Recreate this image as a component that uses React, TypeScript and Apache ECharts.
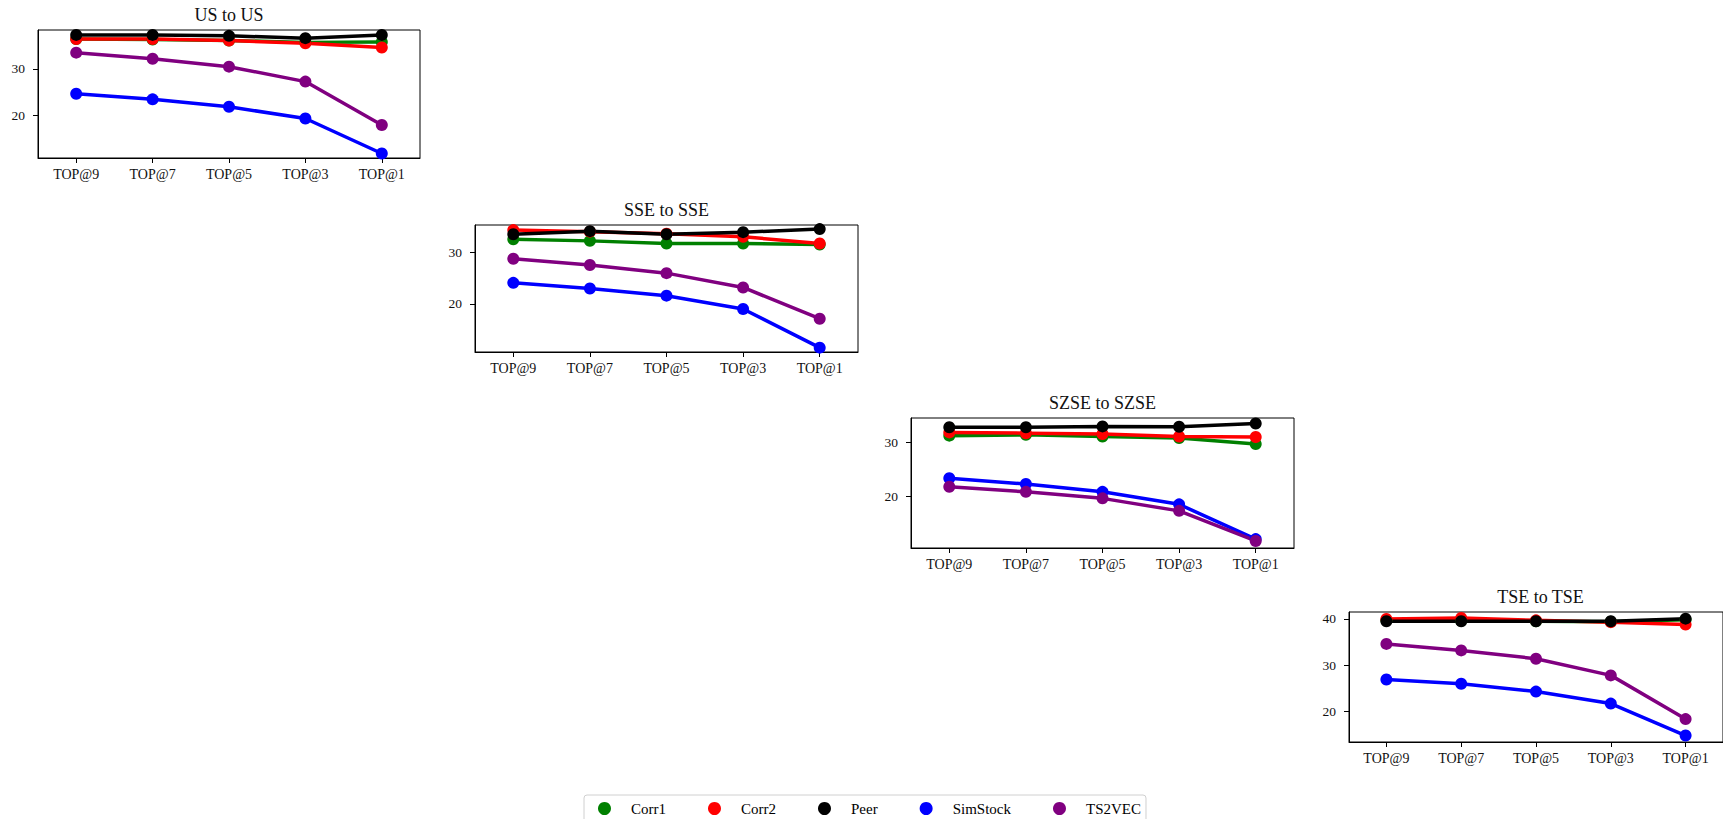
import React, { useEffect, useRef } from "react";
import * as echarts from "echarts";

const categories = ["TOP@9", "TOP@7", "TOP@5", "TOP@3", "TOP@1"];
const methods = ["Corr1", "Corr2", "Peer", "SimStock", "TS2VEC"];
const methodColors = ["#008000", "#ff0000", "#000000", "#0000ff", "#800080"];
const panelTitles = ["US to US", "SSE to SSE", "SZSE to SZSE", "TSE to TSE"];

// values per panel, per method (order: Corr1, Corr2, Peer, SimStock, TS2VEC)
const usValues = [
  [36.4, 36.3, 36.1, 35.7, 35.8],
  [36.4, 36.4, 36.1, 35.5, 34.6],
  [37.3, 37.3, 37.1, 36.6, 37.3],
  [24.7, 23.5, 21.9, 19.4, 11.9],
  [33.5, 32.2, 30.5, 27.3, 18.0],
];
const sseValues = [
  [32.6, 32.3, 31.8, 31.8, 31.6],
  [34.4, 34.1, 33.7, 33.1, 31.8],
  [33.6, 34.2, 33.6, 34.0, 34.6],
  [24.1, 23.0, 21.6, 19.0, 11.45],
  [28.8, 27.6, 26.0, 23.2, 17.1],
];
const szseValues = [
  [31.25, 31.4, 31.1, 30.8, 29.7],
  [31.85, 31.7, 31.55, 31.1, 31.0],
  [32.8, 32.8, 32.95, 32.9, 33.5],
  [23.4, 22.35, 20.9, 18.6, 12.2],
  [21.85, 20.9, 19.7, 17.4, 11.85],
];
const tseValues = [
  [39.7, 39.6, 39.5, 39.4, 39.8],
  [40.0, 40.2, 39.7, 39.3, 38.8],
  [39.5, 39.5, 39.5, 39.5, 40.06],
  [26.9, 26.0, 24.3, 21.7, 14.8],
  [34.6, 33.2, 31.4, 27.8, 18.35],
];
const panelValues = [usValues, sseValues, szseValues, tseValues];

// y-axis ranges and tick labels
const yMins = [10.94, 10.6, 10.56, 13.4];
const yMaxs = [38.35, 35.4, 34.5, 41.5];
const yTicks = [
  [20, 30],
  [20, 30],
  [20, 30],
  [20, 30, 40],
];

// layout of each panel (pixels)
const grids = [
  { left: 38, top: 30, width: 382, height: 128 },
  { left: 475, top: 225, width: 383, height: 127 },
  { left: 911, top: 418, width: 383, height: 130 },
  { left: 1349, top: 612, width: 383, height: 130 },
];

const FONT = "Liberation Serif";

export default function App() {
  const ref = useRef<HTMLDivElement>(null);

  useEffect(() => {
    if (!ref.current) return;
    const chart = echarts.init(ref.current, undefined, { renderer: "svg" });

    const series: any[] = [];
    panelValues.forEach((vals, p) => {
      vals.forEach((arr, m) => {
        series.push({
          type: "line",
          name: methods[m],
          xAxisIndex: p,
          yAxisIndex: p,
          data: arr,
          symbol: "circle",
          symbolSize: 12,
          showSymbol: true,
          color: methodColors[m],
          itemStyle: { color: methodColors[m] },
          lineStyle: { color: methodColors[m], width: 3.5 },
          emphasis: { disabled: true },
          z: 2,
        });
      });
    });

    const option: any = {
      animation: false,
      backgroundColor: "#ffffff",
      textStyle: { fontFamily: FONT },
      grid: grids.map((g) => ({
        ...g,
        show: true,
        borderColor: "#000",
        borderWidth: 1,
        backgroundColor: "transparent",
        containLabel: false,
      })),
      xAxis: grids.map((_, i) => ({
        type: "category",
        gridIndex: i,
        data: categories,
        boundaryGap: true,
        axisLine: { show: true, lineStyle: { color: "#000", width: 1 } },
        axisTick: { show: true, alignWithLabel: true, length: 5, lineStyle: { color: "#000" } },
        axisLabel: { color: "#111", fontSize: 14, fontFamily: FONT, margin: 9 },
        splitLine: { show: false },
      })),
      yAxis: grids.map((_, i) => ({
        type: "value",
        gridIndex: i,
        min: yMins[i],
        max: yMaxs[i],
        axisLine: { show: true, lineStyle: { color: "#000", width: 1 } },
        axisTick: {
          show: true,
          length: 5,
          lineStyle: { color: "#000" },
          customValues: yTicks[i],
        },
        axisLabel: {
          color: "#111",
          fontSize: 13.5,
          fontFamily: FONT,
          margin: 13,
          customValues: yTicks[i],
        },
        splitLine: { show: false },
      })),
      legend: {
        data: methods,
        left: 584,
        top: 795,
        orient: "horizontal",
        icon: "circle",
        itemWidth: 13,
        itemHeight: 13,
        itemGap: 42,
        padding: [6, 5, 6, 14],
        borderColor: "#d0d0d0",
        borderWidth: 1,
        borderRadius: 3,
        backgroundColor: "#fff",
        textStyle: {
          fontFamily: FONT,
          fontSize: 15,
          color: "#000",
          padding: [0, 0, 0, 15],
        },
        selectedMode: false,
      },
      graphic: grids.map((g, i) => ({
        type: "text",
        x: g.left + g.width / 2,
        y: g.top - 15,
        style: {
          text: panelTitles[i],
          fontFamily: FONT,
          fontSize: 18,
          fill: "#111",
          align: "center",
          verticalAlign: "middle",
        },
      })),
      series,
    };

    chart.setOption(option);
    return () => {
      chart.dispose();
    };
  }, []);

  return (
    <div
      ref={ref}
      style={{
        position: "absolute",
        left: 0,
        top: 0,
        width: 1723,
        height: 819,
        background: "#fff",
      }}
    />
  );
}
